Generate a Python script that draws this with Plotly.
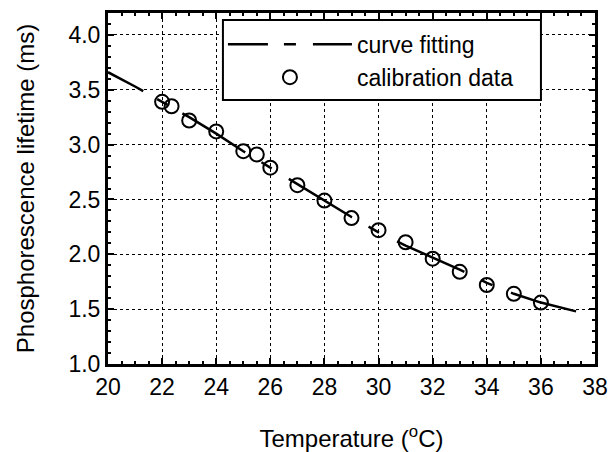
import plotly.graph_objects as go

# calibration data (temperature degC, lifetime ms)
cal_temp = [22.0, 22.35, 23.0, 24.0, 25.0, 25.5, 26.0, 27.0, 28.0, 29.0, 30.0, 31.0, 32.0, 33.0, 34.0, 35.0, 36.0]
cal_life = [3.39, 3.35, 3.22, 3.12, 2.94, 2.91, 2.79, 2.63, 2.49, 2.33, 2.22, 2.11, 1.96, 1.84, 1.72, 1.64, 1.56]

# curve fitting
fit_temp = [20.0, 21.0, 22.0, 23.0, 24.0, 25.0, 26.0, 27.0, 28.0, 29.0, 30.0, 31.0, 32.0, 33.0, 34.0, 35.0, 36.0, 37.0, 37.3]
fit_life = [3.66, 3.53, 3.39, 3.25, 3.10, 2.94, 2.79, 2.64, 2.49, 2.34, 2.20, 2.08, 1.97, 1.86, 1.74, 1.64, 1.56, 1.50, 1.48]

x_ticks = [20, 22, 24, 26, 28, 30, 32, 34, 36, 38]
y_ticks = [1.0, 1.5, 2.0, 2.5, 3.0, 3.5, 4.0]

FONT = "Liberation Sans, Arial, sans-serif"
DASH = "40px,16px,12px,17px,74px,19px,12px,20px,74px,19px,12px,20px,74px,19px,12px,20px,120px"

fig = go.Figure()
fig.add_trace(go.Scatter(
    x=fit_temp, y=fit_life, mode="lines", name="curve fitting",
    line=dict(color="black", width=2.5, dash=DASH),
))
fig.add_trace(go.Scatter(
    x=cal_temp, y=cal_life, mode="markers", name="calibration data",
    marker=dict(symbol="circle-open", size=14, color="black", line=dict(width=2, color="black")),
))

axis_common = dict(
    showline=True, linecolor="black", linewidth=3, mirror="allticks",
    ticks="inside", ticklen=6, tickwidth=1.5, tickcolor="black",
    showgrid=True, gridcolor="black", gridwidth=1, griddash="dot",
    zeroline=False, automargin=False,
    tickfont=dict(family=FONT, size=23, color="black"),
)

fig.update_xaxes(
    range=[20, 38], tickvals=x_ticks, ticktext=[str(v) for v in x_ticks],
    minor=dict(dtick=0.5, ticks="inside", ticklen=3, tickcolor="black", showgrid=False),
    title=dict(text="Temperature (<sup>o</sup>C)", font=dict(family=FONT, size=24, color="black"), standoff=34),
    **axis_common,
)
fig.update_yaxes(
    range=[1.0, 4.2], tickvals=y_ticks, ticktext=[f"{v:.1f}" for v in y_ticks],
    minor=dict(dtick=0.1, ticks="inside", ticklen=3, tickcolor="black", showgrid=False),
    title=dict(text="Phosphorescence lifetime (ms)", font=dict(family=FONT, size=24, color="black"), standoff=28),
    **axis_common,
)

# legend frame (white box with black border)
fig.add_shape(
    type="rect", xref="paper", yref="paper",
    x0=0.236, x1=0.889, y0=0.752, y1=0.980,
    line=dict(color="black", width=2), fillcolor="white", layer="above",
)

fig.update_layout(
    width=608, height=452,
    margin=dict(l=108, r=13, t=13, b=88),
    paper_bgcolor="white", plot_bgcolor="white",
    showlegend=True,
    legend=dict(
        x=0.236, y=0.972, xanchor="left", yanchor="top",
        bgcolor="rgba(0,0,0,0)", borderwidth=0,
        font=dict(family=FONT, size=23, color="black"),
        itemwidth=124, tracegroupgap=0,
    ),
)

fig.write_html(
    "out.html",
    config={"displayModeBar": False},
    post_script="document.body.style.margin='0';document.body.style.overflow='hidden';",
)
